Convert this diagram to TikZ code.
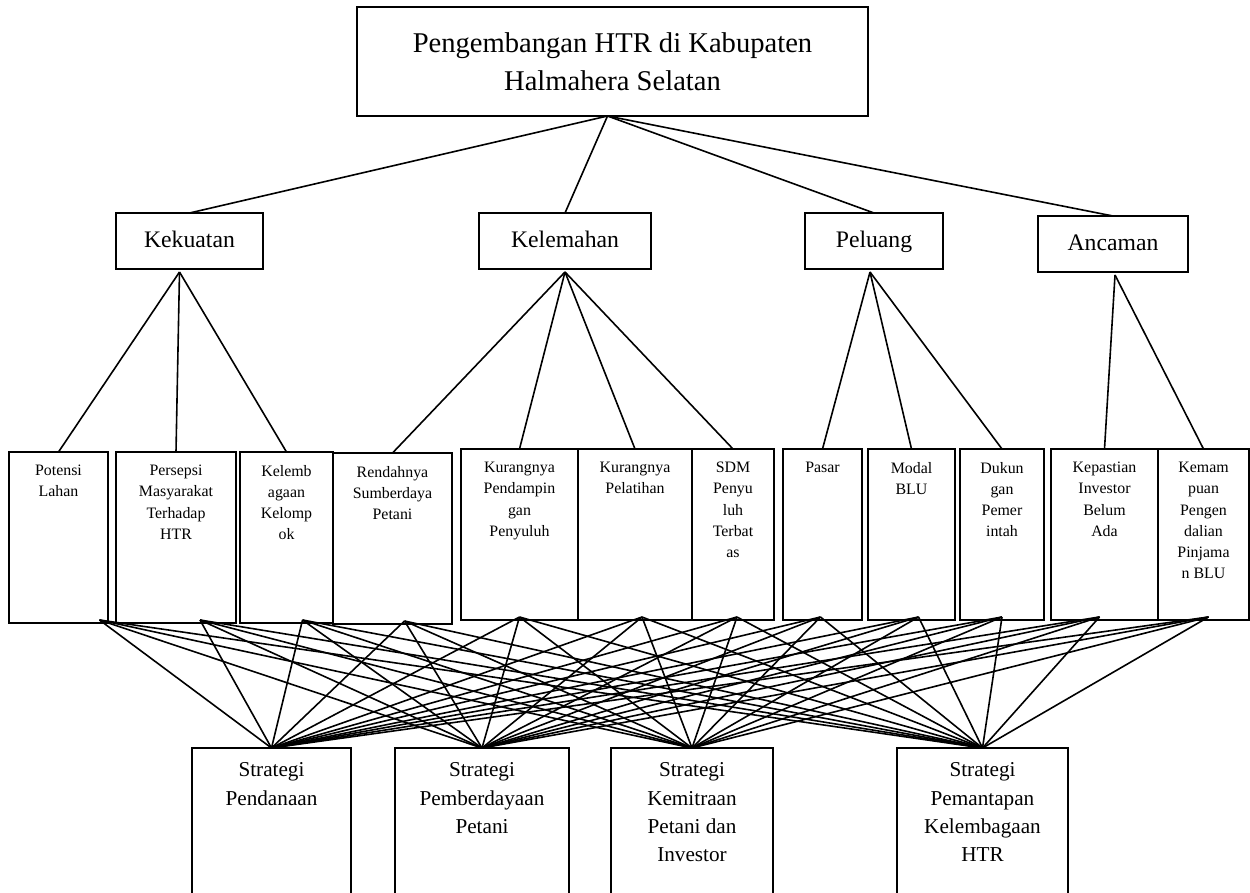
\documentclass[tikz,border=0pt]{standalone}
\usepackage{fontspec}
\setmainfont{Liberation Serif}
\usetikzlibrary{positioning}

\begin{document}
\begin{tikzpicture}[
x=1pt, y=-1pt,
kotak/.style={
  draw,
  line width=1.2pt,
  inner sep=0pt,
  outer sep=0pt,
  anchor=north west
  },
aspek/.style={
  kotak,
  minimum height=56pt,
  text height=16pt,
  text depth=4pt,
  font=\fontsize{23.7}{28}\selectfont
  },
faktor/.style={
  kotak,
  minimum height=171pt
  },
strategi/.style={
  kotak,
  minimum height=160pt
  },
isi/.style={
  anchor=north,
  inner sep=0pt,
  align=center,
  yshift=-13pt,
  font=\fontsize{15.9}{21.2}\selectfont
  },
isib/.style={
  anchor=north,
  inner sep=0pt,
  align=center,
  yshift=-14.5pt,
  font=\fontsize{21.2}{28.3}\selectfont
  },
garis/.style={line width=1.6pt}
]
\useasboundingbox (0,0) rectangle (1250,892);

% judul
\node[kotak, minimum width=511pt, minimum height=109pt, align=center,
  font=\fontsize{28.6}{38}\selectfont] (judul) at (357,7)
  {Pengembangan HTR di Kabupaten\\Halmahera Selatan};

% SWOT
\node[aspek, minimum width=147pt] (kekuatan) at (116,213) {Kekuatan};
\node[aspek, minimum width=172pt] (kelemahan) at (479,213) {Kelemahan};
\node[aspek, minimum width=138pt] (peluang) at (805,213) {Peluang};
\node[aspek, minimum width=150pt] (ancaman) at (1038,216) {Ancaman};

% faktor
\node[faktor, minimum width=99pt, label={[isi]north:Potensi\\Lahan}] (potensi) at (9,452) {};
\node[faktor, minimum width=120pt, label={[isi]north:Persepsi\\Masyarakat\\Terhadap\\HTR}] (persepsi) at (116,452) {};
\node[faktor, minimum width=93pt, label={[isi]north:Kelemb\\agaan\\Kelomp\\ok}] (kelembagaan) at (240,452) {};
\node[faktor, minimum width=119pt, label={[isi]north:Rendahnya\\Sumberdaya\\Petani}] (rendahnya) at (333,453) {};
\node[faktor, minimum width=117pt, label={[isi]north:Kurangnya\\Pendampin\\gan\\Penyuluh}] (pendampingan) at (461,449) {};
\node[faktor, minimum width=114pt, label={[isi]north:Kurangnya\\Pelatihan}] (pelatihan) at (578,449) {};
\node[faktor, minimum width=82pt, label={[isi]north:SDM\\Penyu\\luh\\Terbat\\as}] (sdm) at (692,449) {};
\node[faktor, minimum width=79pt, label={[isi]north:Pasar}] (pasar) at (783,449) {};
\node[faktor, minimum width=87pt, label={[isi]north:Modal\\BLU}] (modal) at (868,449) {};
\node[faktor, minimum width=84pt, label={[isi]north:Dukun\\gan\\Pemer\\intah}] (dukungan) at (960,449) {};
\node[faktor, minimum width=107pt, label={[isi]north:Kepastian\\Investor\\Belum\\Ada}] (kepastian) at (1051,449) {};
\node[faktor, minimum width=91pt, label={[isi]north:Kemam\\puan\\Pengen\\dalian\\Pinjama\\n BLU}] (kemampuan) at (1158,449) {};

% strategi
\node[strategi, minimum width=159pt, label={[isib]north:Strategi\\Pendanaan}] (pendanaan) at (192,748) {};
\node[strategi, minimum width=174pt, label={[isib]north:Strategi\\Pemberdayaan\\Petani}] (pemberdayaan) at (395,748) {};
\node[strategi, minimum width=162pt, label={[isib]north:Strategi\\Kemitraan\\Petani dan\\Investor}] (kemitraan) at (611,748) {};
\node[strategi, minimum width=171pt, label={[isib]north:Strategi\\Pemantapan\\Kelembagaan\\HTR}] (pemantapan) at (897,748) {};

% garis
\foreach \b in {kekuatan,kelemahan,peluang,ancaman}
  \draw[garis] ([xshift=-5pt]judul.south) -- (\b.north);
\foreach \b in {potensi,persepsi,kelembagaan}
  \draw[garis] ([xshift=-10pt,yshift=-3pt]kekuatan.south) -- (\b.north);
\foreach \b in {rendahnya,pendampingan,pelatihan,sdm}
  \draw[garis] ([yshift=-3pt]kelemahan.south) -- (\b.north);
\foreach \b in {pasar,modal,dukungan}
  \draw[garis] ([xshift=-4pt,yshift=-3pt]peluang.south) -- (\b.north);
\foreach \b in {kepastian,kemampuan}
  \draw[garis] ([xshift=2pt,yshift=-3pt]ancaman.south) -- (\b.north);
\foreach \a/\dx in {potensi/41,persepsi/24,kelembagaan/16,rendahnya/12,pendampingan/0,pelatihan/7,
                    sdm/4,pasar/-2,modal/7,dukungan/0,kepastian/-5,kemampuan/5}
{\foreach \s in {pendanaan,pemberdayaan,kemitraan,pemantapan}
  \draw[garis] ([xshift=\dx pt,yshift=3pt]\a.south) -- (\s.north);
}

\end{tikzpicture}
\end{document}
